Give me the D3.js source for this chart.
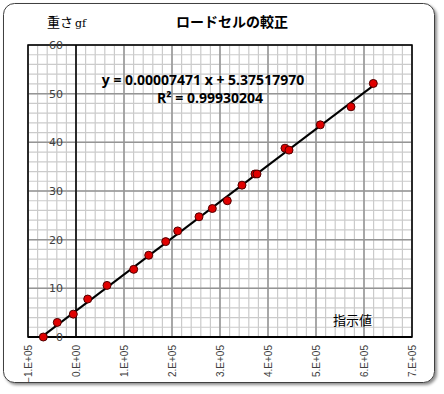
<!DOCTYPE html>
<html>
<head>
<meta charset="utf-8">
<style>
  body { margin: 0; background: #fff; }
  svg text { font-family: "Noto Sans CJK JP", "DejaVu Sans", sans-serif; }
</style>
</head>
<body>
<script src="https://cdn.jsdelivr.net/npm/d3@7"></script>
<script>

// readings (indicator value) and weights (gf)
var readings = [-68100, -39000, -5600, 24400, 64600, 120200, 151500, 186900, 211900, 256250,
                284000, 315200, 345800, 372900, 377100, 435400, 443750, 509000, 572900, 619400];
var weights  = [0.0, 3.0, 4.7, 7.8, 10.6, 13.9, 16.8, 19.6, 21.8, 24.7,
                26.4, 28.0, 31.2, 33.5, 33.5, 38.8, 38.4, 43.6, 47.3, 52.1];

var slope = 0.00007471;
var intercept = 5.37517970;
var eqText = "y = 0.00007471 x + 5.37517970";
var r2Text = "R² = 0.99930204";

var xTicks = [-100000, 0, 100000, 200000, 300000, 400000, 500000, 600000, 700000];
var xTickLabels = ["\u22121.E+05", "0.E+00", "1.E+05", "2.E+05", "3.E+05", "4.E+05", "5.E+05", "6.E+05", "7.E+05"];
var yTicks = [0, 10, 20, 30, 40, 50, 60];

var W = 444, H = 394;
var plot = {left: 28, top: 45, right: 412, bottom: 337};

var svg = d3.select("body").append("svg")
    .attr("width", W)
    .attr("height", H);

// frame with shadow
var defs = svg.append("defs");
var f = defs.append("filter").attr("id", "shadow")
    .attr("x", "-5%").attr("y", "-5%").attr("width", "115%").attr("height", "115%");
f.append("feDropShadow").attr("dx", 2).attr("dy", 2).attr("stdDeviation", 1.5)
    .attr("flood-color", "#000").attr("flood-opacity", 0.45);

svg.append("rect")
    .attr("x", 3.5).attr("y", 3.5)
    .attr("width", 431).attr("height", 379)
    .attr("rx", 11).attr("ry", 11)
    .style("fill", "#fff")
    .style("stroke", "#404040")
    .style("stroke-width", 1)
    .attr("filter", "url(#shadow)");

var x = d3.scaleLinear().domain([-100000, 700000]).range([plot.left, plot.right]);
var y = d3.scaleLinear().domain([0, 60]).range([plot.bottom, plot.top]);

var g = svg.append("g");

// minor grid
var xMinor = d3.range(-100000, 700001, 20000);
var yMinor = d3.range(0, 61, 2);

g.selectAll(".xminor").data(xMinor).enter().append("line")
    .attr("x1", function(d) { return x(d); }).attr("x2", function(d) { return x(d); })
    .attr("y1", plot.top).attr("y2", plot.bottom)
    .style("stroke", "#cbcbcb").style("stroke-width", 1.2);

g.selectAll(".yminor").data(yMinor).enter().append("line")
    .attr("y1", function(d) { return y(d); }).attr("y2", function(d) { return y(d); })
    .attr("x1", plot.left).attr("x2", plot.right)
    .style("stroke", "#cbcbcb").style("stroke-width", 1.2);

// major grid
g.selectAll(".xmajor").data(xTicks).enter().append("line")
    .attr("x1", function(d) { return x(d); }).attr("x2", function(d) { return x(d); })
    .attr("y1", plot.top).attr("y2", plot.bottom)
    .style("stroke", "#959595").style("stroke-width", 1.5);

g.selectAll(".ymajor").data(yTicks).enter().append("line")
    .attr("y1", function(d) { return y(d); }).attr("y2", function(d) { return y(d); })
    .attr("x1", plot.left).attr("x2", plot.right)
    .style("stroke", "#959595").style("stroke-width", 1.5);

// plot border
g.append("rect")
    .attr("x", plot.left).attr("y", plot.top)
    .attr("width", plot.right - plot.left).attr("height", plot.bottom - plot.top)
    .style("fill", "none").style("stroke", "#000").style("stroke-width", 1.5);

// axis lines
g.append("line")
    .attr("x1", x(0)).attr("x2", x(0)).attr("y1", plot.top).attr("y2", plot.bottom)
    .style("stroke", "#000").style("stroke-width", 1.5);
g.append("line")
    .attr("x1", plot.left).attr("x2", plot.right).attr("y1", y(0)).attr("y2", y(0))
    .style("stroke", "#000").style("stroke-width", 2);

// y tick labels
g.selectAll(".ylab").data(yTicks).enter().append("text")
    .attr("x", 63)
    .attr("y", function(d) { return y(d); })
    .attr("dy", "0.35em")
    .attr("text-anchor", "end")
    .style("font-family", "'DejaVu Sans', sans-serif")
    .style("font-size", "11px")
    .style("fill", "#404040")
    .text(function(d) { return d; });

// x tick labels (rotated)
g.selectAll(".xlab").data(xTicks).enter().append("text")
    .attr("transform", function(d) { return "translate(" + x(d) + "," + 345 + ") rotate(-90)"; })
    .attr("dy", "0.35em")
    .attr("text-anchor", "end")
    .style("font-family", "'Liberation Sans', Arial, sans-serif")
    .style("font-size", "10px")
    .style("fill", "#404040")
    .text(function(d, i) { return xTickLabels[i]; });

// trendline over data range
var xMin = d3.min(readings), xMax = d3.max(readings);
g.append("line")
    .attr("x1", x(xMin)).attr("y1", y(slope * xMin + intercept))
    .attr("x2", x(xMax)).attr("y2", y(slope * xMax + intercept))
    .style("stroke", "#000").style("stroke-width", 2);

// points
g.selectAll(".pt").data(readings).enter().append("circle")
    .attr("cx", function(d) { return x(d); })
    .attr("cy", function(d, i) { return y(weights[i]); })
    .attr("r", 4)
    .style("fill", "#e00000")
    .style("stroke", "#500000")
    .style("stroke-width", 1);

// equation
svg.append("text")
    .attr("x", 203).attr("y", 85)
    .attr("text-anchor", "middle")
    .style("font-family", "'Open Sans', 'DejaVu Sans', sans-serif")
    .style("font-weight", "bold")
    .style("font-size", "14px")
    .style("fill", "#000")
    .text(eqText);
svg.append("text")
    .attr("x", 210).attr("y", 103)
    .attr("text-anchor", "middle")
    .style("font-family", "'Open Sans', 'DejaVu Sans', sans-serif")
    .style("font-weight", "bold")
    .style("font-size", "14px")
    .style("fill", "#000")
    .text(r2Text);

// title
svg.append("text")
    .attr("x", 232).attr("y", 27)
    .attr("text-anchor", "middle")
    .style("font-weight", "bold")
    .style("font-size", "14px")
    .style("fill", "#000")
    .text("ロードセルの較正");

// y axis title
var yt = svg.append("text")
    .attr("x", 47).attr("y", 27)
    .style("font-size", "13px")
    .style("fill", "#000");
yt.append("tspan").text("重さ");
yt.append("tspan")
    .style("font-family", "'DejaVu Serif', 'Liberation Serif', serif")
    .style("font-size", "11px")
    .attr("dx", 2)
    .text("gf");

// x axis title
svg.append("text")
    .attr("x", 333).attr("y", 325)
    .style("font-size", "13px")
    .style("fill", "#000")
    .text("指示値");

</script>
</body>
</html>
